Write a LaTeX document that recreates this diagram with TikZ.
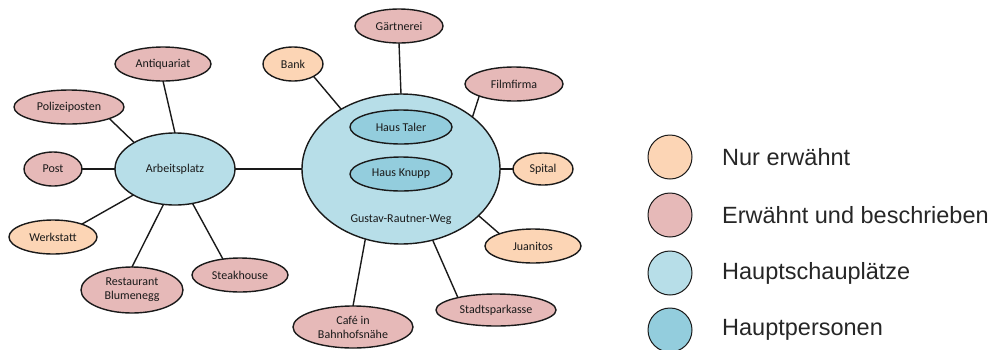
\documentclass[tikz,border=0pt]{standalone}
\usepackage{fontspec}
\setmainfont{Carlito}
\newfontfamily\legendfont{Liberation Sans}
\usetikzlibrary{shapes.geometric}
\definecolor{cOrange}{HTML}{FCD5B5}
\definecolor{cPink}{HTML}{E6B9B8}
\definecolor{cLight}{HTML}{B7DEE8}
\definecolor{cDark}{HTML}{93CDDD}
\definecolor{cLine}{HTML}{1A1A1A}
\tikzset{
  place/.style={ellipse, draw=cLine, line width=1.4pt, inner sep=0pt, outer sep=0pt,
    align=center, font=\fontsize{12}{14}\selectfont, text=black!90},
  mentioned/.style={place, fill=cOrange},
  described/.style={place, fill=cPink},
  mainplace/.style={place, fill=cLight},
  person/.style={place, fill=cDark},
  conn/.style={draw=cLine, line width=1.4pt},
  legcircle/.style={circle, draw=cLine, line width=1pt, minimum size=44pt, inner sep=0pt},
  legtext/.style={anchor=west, font=\legendfont\fontsize{23.5}{28}\selectfont, text=black!85, inner sep=0pt}
}
\begin{document}
\begin{tikzpicture}[x=1pt, y=-1pt]
\useasboundingbox (0,0) rectangle (996,349);
% left hub
\node[mainplace, minimum width=120pt, minimum height=72pt] (arb) at (175,169) {Arbeitsplatz};
\node[described, minimum width=96pt, minimum height=34pt] (anti) at (163,64) {Antiquariat};
\node[described, minimum width=110pt, minimum height=34pt] (poli) at (69,107) {Polizeiposten};
\node[described, minimum width=58pt, minimum height=34pt] (post) at (53,169) {Post};
\node[mentioned, minimum width=88pt, minimum height=34pt] (werk) at (53,237) {Werkstatt};
\node[described, minimum width=102pt, minimum height=46pt] (rest) at (132,290) {Restaurant\\Blumenegg};
\node[described, minimum width=96pt, minimum height=34pt] (steak) at (240,275) {Steakhouse};
% right hub
\node[mainplace, minimum width=198pt, minimum height=150pt] (big) at (401,169) {};
\node[person, minimum width=102pt, minimum height=34pt] (taler) at (401,127) {Haus Taler};
\node[person, minimum width=102pt, minimum height=34pt] (knupp) at (401,174) {Haus Knupp};
\node[font=\fontsize{12}{14}\selectfont, text=black!90, inner sep=0pt] (weg) at (401,220) {Gustav-Rautner-Weg};
\node[mentioned, minimum width=60pt, minimum height=34pt] (bank) at (293,64) {Bank};
\node[described, minimum width=88pt, minimum height=34pt] (gaert) at (399,26) {Gärtnerei};
\node[described, minimum width=98pt, minimum height=34pt] (film) at (514,84) {Filmfirma};
\node[mentioned, minimum width=60pt, minimum height=32pt] (spital) at (543,169) {Spital};
\node[mentioned, minimum width=96pt, minimum height=34pt] (juan) at (533,246) {Juanitos};
\node[described, minimum width=120pt, minimum height=32pt] (stadt) at (496,310) {Stadtsparkasse};
\node[described, minimum width=120pt, minimum height=42pt] (cafe) at (353,327) {Café in\\Bahnhofsnähe};
% connectors
\draw[conn] (arb.90) -- (anti.-90);
\draw[conn] (arb.147) -- (poli.-16);
\draw[conn] (arb.180) -- (post.0);
\draw[conn] (arb.212) -- (werk.24);
\draw[conn] (arb.252) -- (rest.90);
\draw[conn] (arb.297) -- (steak.137);
\draw[conn] (arb.0) -- (big.180);
\draw[conn] (big.135.5) -- (bank.-31);
\draw[conn] (big.90) -- (gaert.-90);
\draw[conn] (big.36) -- (film.199);
\draw[conn] (big.0) -- (spital.180);
\draw[conn] (big.-31) -- (juan.160);
\draw[conn] (big.-66) -- (stadt.162);
\draw[conn] (big.243) -- (cafe.90);
% legend
\node[legcircle, fill=cOrange] (l1) at (670,157) {};
\node[legcircle, fill=cPink] (l2) at (670,215) {};
\node[legcircle, fill=cLight] (l3) at (670,273) {};
\node[legcircle, fill=cDark] (l4) at (670,330) {};
\node[legtext] (t1) at (722,157) {Nur erwähnt};
\node[legtext] (t2) at (722,215) {Erwähnt und beschrieben};
\node[legtext] (t3) at (722,273) {Hauptschauplätze};
\node[legtext] (t4) at (722,330) {Hauptpersonen};
\end{tikzpicture}
\end{document}
